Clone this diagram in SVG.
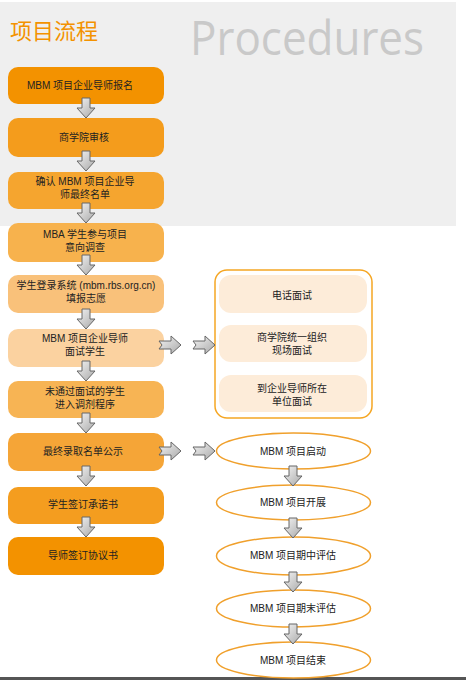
<svg xmlns="http://www.w3.org/2000/svg" xmlns:xlink="http://www.w3.org/1999/xlink" width="466" height="680" viewBox="0 0 466 680">
<style>
.t{font-family:"Liberation Sans","Noto Sans CJK SC",sans-serif;font-size:10px;fill:#222;text-anchor:middle}
.box{stroke:none}
.inner{fill:#fdecd9;stroke:none}
.ell{fill:#fff;stroke:#f0a02c;stroke-width:1.5}
.arr{fill:url(#ag);stroke:#666;stroke-width:1;stroke-linejoin:round}
</style>
<defs>
<linearGradient id="ag" x1="0" y1="0" x2="1" y2="1">
<stop offset="0" stop-color="#f4f4f4"/>
<stop offset="1" stop-color="#a8a8a8"/>
</linearGradient>
<path id="down" d="M-4,0 L4,0 L4,10 L9,10 L0,20 L-9,10 L-4,10 Z"/>
<path id="right" d="M0,-4 L12,-4 L12,-9 L22,0 L12,9 L12,4 L0,4 L3,0 Z"/>
</defs>
<rect x="0" y="2" width="456" height="224" fill="#efefef"/>
<rect x="0" y="677" width="466" height="3" fill="#555"/>
<text x="10" y="39" font-family="'Noto Sans CJK SC',sans-serif" font-size="22" fill="#f39200">项目流程</text>
<text x="190" y="55" font-family="'Open Sans','Noto Sans',sans-serif" font-size="47" fill="#c9c9c9" textLength="234" lengthAdjust="spacingAndGlyphs">Procedures</text>

<g id="n1"><rect class="box" x="8" y="67" width="156" height="37" rx="10" fill="#f39200"/><text class="t" x="80" y="89">MBM 项目企业导师报名</text></g>
<g id="n2"><rect class="box" x="8" y="118" width="156" height="39" rx="10" fill="#f49c1c"/><text class="t" x="84" y="141">商学院审核</text></g>
<g id="n3"><rect class="box" x="8" y="172" width="156" height="37" rx="10" fill="#f5a52f"/><text class="t" x="85" y="184.5">确认 MBM 项目企业导</text><text class="t" x="85" y="197.5">师最终名单</text></g>
<g id="n4"><rect class="box" x="8" y="223" width="156" height="39" rx="10" fill="#f7b24d"/><text class="t" x="85" y="237.5">MBA 学生参与项目</text><text class="t" x="85" y="250.5">意向调查</text></g>
<g id="n5"><rect class="box" x="8" y="275" width="156" height="38" rx="10" fill="#f9c17a"/><text class="t" x="86" y="288.5">学生登录系统 (mbm.rbs.org.cn)</text><text class="t" x="86" y="301.5">填报志愿</text></g>
<g id="n6"><rect class="box" x="8" y="329" width="156" height="38" rx="10" fill="#fbd2a0"/><text class="t" x="85" y="341.5">MBM 项目企业导师</text><text class="t" x="85" y="354.5">面试学生</text></g>
<g id="n7"><rect class="box" x="8" y="381" width="156" height="37" rx="10" fill="#f7b454"/><text class="t" x="85" y="394.5">未通过面试的学生</text><text class="t" x="85" y="407.5">进入调剂程序</text></g>
<g id="n8"><rect class="box" x="8" y="433" width="156" height="38" rx="10" fill="#f5a537"/><text class="t" x="83" y="455">最终录取名单公示</text></g>
<g id="n9"><rect class="box" x="8" y="487" width="156" height="37" rx="10" fill="#f49d1f"/><text class="t" x="83" y="508">学生签订承诺书</text></g>
<g id="n10"><rect class="box" x="8" y="537" width="156" height="38" rx="10" fill="#f39200"/><text class="t" x="83" y="559">导师签订协议书</text></g>

<g id="interview">
<rect x="215" y="270" width="157" height="148" rx="12" fill="#fff" stroke="#f5a623" stroke-width="1.5"/>
<g id="i1"><rect class="inner" x="219" y="275" width="148" height="38" rx="12"/><text class="t" x="292" y="299">电话面试</text></g>
<g id="i2"><rect class="inner" x="219" y="325" width="148" height="37" rx="12"/><text class="t" x="292" y="340.5">商学院统一组织</text><text class="t" x="292" y="353.5">现场面试</text></g>
<g id="i3"><rect class="inner" x="219" y="375" width="148" height="37" rx="12"/><text class="t" x="292" y="391.5">到企业导师所在</text><text class="t" x="292" y="404.5">单位面试</text></g>
</g>

<g id="e1"><ellipse class="ell" cx="293.5" cy="451" rx="77" ry="18"/><text class="t" x="293" y="455">MBM 项目启动</text></g>
<g id="e2"><ellipse class="ell" cx="293.5" cy="502.5" rx="77" ry="17.5"/><text class="t" x="293" y="506">MBM 项目开展</text></g>
<g id="e3"><ellipse class="ell" cx="293.5" cy="556" rx="77" ry="19"/><text class="t" x="293" y="559">MBM 项目期中评估</text></g>
<g id="e4"><ellipse class="ell" cx="293.5" cy="608.5" rx="77" ry="18.5"/><text class="t" x="293" y="612">MBM 项目期末评估</text></g>
<g id="e5"><ellipse class="ell" cx="293.5" cy="660" rx="77" ry="18"/><text class="t" x="293" y="664">MBM 项目结束</text></g>

<g id="connectors">
<use href="#down" class="arr" x="86" y="98"/>
<use href="#down" class="arr" x="86" y="151"/>
<use href="#down" class="arr" x="86" y="203"/>
<use href="#down" class="arr" x="86" y="255"/>
<use href="#down" class="arr" x="86" y="309"/>
<use href="#down" class="arr" x="86" y="361"/>
<use href="#down" class="arr" x="86" y="413"/>
<use href="#down" class="arr" x="86" y="466"/>
<use href="#down" class="arr" x="86" y="517"/>
<use href="#right" class="arr" x="159" y="345"/>
<use href="#right" class="arr" x="193" y="345"/>
<use href="#right" class="arr" x="159" y="451"/>
<use href="#right" class="arr" x="193" y="451"/>
<use href="#down" class="arr" x="293" y="466"/>
<use href="#down" class="arr" x="293" y="518"/>
<use href="#down" class="arr" x="293" y="572"/>
<use href="#down" class="arr" x="293" y="624"/>
</g>
</svg>
